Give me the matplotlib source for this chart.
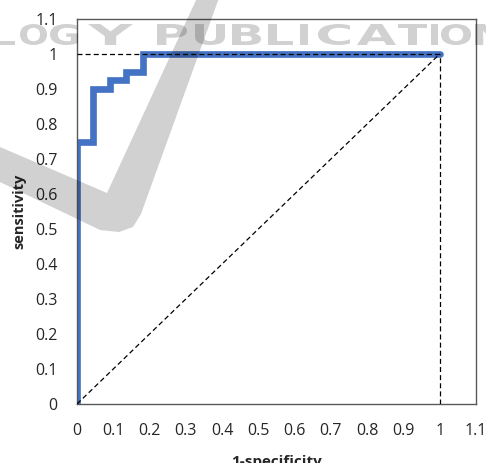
import matplotlib
matplotlib.use('Agg')
from matplotlib import pyplot as plt
from matplotlib.textpath import TextPath
from matplotlib.font_manager import FontProperties
from matplotlib.patches import PathPatch, Polygon
from matplotlib.path import Path

# ROC curve points
fpr = [0, 0, 0.045, 0.045, 0.091, 0.091, 0.136, 0.136, 0.182, 0.182, 1.0]
tpr = [0, 0.75, 0.75, 0.9, 0.9, 0.925, 0.925, 0.95, 0.95, 1.0, 1.0]

ticks = [0, 0.1, 0.2, 0.3, 0.4, 0.5, 0.6, 0.7, 0.8, 0.9, 1, 1.1]
tick_labels = ['0', '0.1', '0.2', '0.3', '0.4', '0.5', '0.6', '0.7', '0.8', '0.9', '1', '1.1']

W, H = 486, 463
plt.rcParams['font.family'] = ['Open Sans', 'DejaVu Sans']

fig = plt.figure(figsize=(W / 100, H / 100), dpi=100)
ax = fig.add_axes([77 / W, 1 - 404 / H, 399 / W, 385 / H])

ax.plot(fpr, tpr, color='#4472C4', lw=4.8, solid_capstyle='round',
        solid_joinstyle='miter', zorder=2)

dash = (0, (4, 2.5))
ax.plot([0, 1], [0, 1], color='black', lw=0.9, ls=dash, zorder=3)
ax.plot([0, 1], [1, 1], color='black', lw=0.9, ls=dash, zorder=3)
ax.plot([1, 1], [0, 1], color='black', lw=0.9, ls=dash, zorder=3)

ax.set_xlim(0, 1.1)
ax.set_ylim(0, 1.1)
ax.set_xticks(ticks)
ax.set_xticklabels(tick_labels)
ax.set_yticks(ticks)
ax.set_yticklabels(tick_labels)
ax.tick_params(axis='both', which='major', length=0, labelsize=11.5,
               labelcolor='#262626', pad=14)
for s in ax.spines.values():
    s.set_color('#595959')
    s.set_linewidth(1.0)

fig.text(276 / W, 1 - 462 / H, '1-specificity', ha='center', va='center',
         fontsize=11, fontweight='bold', color='#262626')
fig.text(19 / W, 1 - 211 / H, 'sensitivity', ha='center', va='center',
         rotation=90, fontsize=10.5, fontweight='bold', color='#262626')


# faint publisher watermark over the chart (pixel coords, top-left origin)
def px(x, y):
    return (x / W, 1 - y / H)


check = [(0, 147), (107, 193), (197, -2), (219, -2), (141, 214), (133, 227),
         (119, 232), (100, 230), (0, 182)]
fig.add_artist(Polygon([px(x, y) for x, y in check], closed=True,
                       transform=fig.transFigure, facecolor='black',
                       edgecolor='none', alpha=0.18, zorder=10))

letters = 'LOGYPUBLICATION'
spans = [(-12, 15), (20, 47), (50, 78), (88, 133), (157, 187), (195, 225),
         (232, 261), (268, 293), (300, 308), (318, 350), (357, 396),
         (398, 427), (431, 438), (441, 471), (475, 505)]
fp = FontProperties(family='DejaVu Sans', weight='bold')
top, bot = 24, 45
for ch, (x0, x1) in zip(letters, spans):
    tp = TextPath((0, 0), ch, size=100, prop=fp)
    ext = tp.get_extents()
    sx = (x1 - x0) / ext.width
    sy = (bot - top) / ext.height
    verts = [px(x0 + (vx - ext.x0) * sx, bot - (vy - ext.y0) * sy)
             for vx, vy in tp.vertices]
    fig.add_artist(PathPatch(Path(verts, tp.codes), transform=fig.transFigure,
                             facecolor='black', edgecolor='none', alpha=0.18,
                             zorder=10))

fig.savefig('out.png', dpi=100)
